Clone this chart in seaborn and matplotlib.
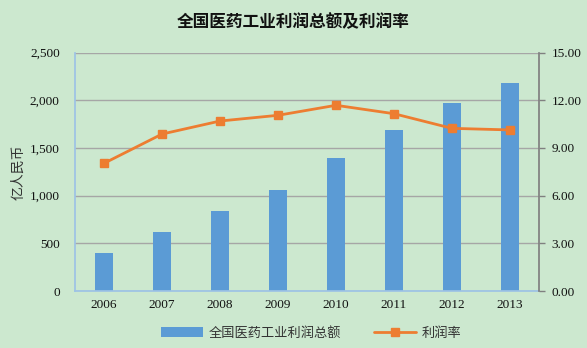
import matplotlib
matplotlib.use("Agg")
import matplotlib.pyplot as plt
import seaborn as sns
import numpy as np
import pandas as pd
from matplotlib.ticker import FuncFormatter
from matplotlib.lines import Line2D
from matplotlib.patches import Patch

years = ["2006", "2007", "2008", "2009", "2010", "2011", "2012", "2013"]
profit = [395, 618, 838, 1055, 1391, 1688, 1974, 2183]
rate = [8.03, 9.87, 10.69, 11.05, 11.68, 11.15, 10.23, 10.13]
left_ticks = [0, 500, 1000, 1500, 2000, 2500]
right_ticks = [0, 3, 6, 9, 12, 15]
title = "全国医药工业利润总额及利润率"
ylabel = "亿人民币"
bar_label = "全国医药工业利润总额"
line_label = "利润率"

sns.set_theme(style="white")
plt.rcParams['font.family'] = ['Liberation Serif', 'Noto Sans CJK SC', 'DejaVu Sans']

bg = "#CCE8CF"
bar_color = "#5B9BD5"
line_color = "#ED7D31"
cjk = ['Noto Sans CJK SC', 'DejaVu Sans']

fig = plt.figure(figsize=(5.87, 3.48), dpi=100, facecolor=bg)
ax = fig.add_axes([75/587, 1-291/348, (539-75)/587, (291-52.5)/348])
ax.set_facecolor(bg)

df = pd.DataFrame({"year": years, "profit": profit, "rate": rate})
sns.barplot(data=df, x="year", y="profit", color=bar_color, width=0.32,
            saturation=1, ax=ax, zorder=2, linewidth=0, edgecolor="none")
ax.set_ylim(0, 2500)
ax.set_yticks(left_ticks)
ax.yaxis.set_major_formatter(FuncFormatter(lambda v, p: f"{int(v):,}"))
ax.set_xlim(-0.5, len(years) - 0.5)
ax.grid(axis="y", color="#A6A6A6", linewidth=1, zorder=0)
ax.set_axisbelow(True)
ax.set_xlabel("")
ax.set_ylabel(ylabel, family=cjk, fontsize=10, color="#333333", labelpad=3)
ax.tick_params(axis="y", length=0, labelsize=9.5, colors="#111111", pad=11)
ax.tick_params(axis="x", length=0, labelsize=9.5, colors="#111111", pad=6)
ax.spines["top"].set_visible(False)
ax.spines["left"].set_color("#9DC3E6")
ax.spines["bottom"].set_color("#9DC3E6")
ax.spines["right"].set_visible(False)

ax2 = ax.twinx()
ax2.plot(np.arange(len(years)), rate, color=line_color, marker="s",
         markersize=6, linewidth=2, zorder=3)
ax2.set_ylim(0, 15)
ax2.set_yticks(right_ticks)
ax2.yaxis.set_major_formatter(FuncFormatter(lambda v, p: f"{v:.2f}"))
ax2.tick_params(axis="y", length=4, width=1, color="#808080", direction="out",
                labelsize=9.5, labelcolor="#111111", pad=5)
for s in ["top", "left", "bottom"]:
    ax2.spines[s].set_visible(False)
ax2.spines["right"].set_color("#808080")
ax2.grid(False)

fig.text(0.5, 1 - 22/348, title, family=cjk, fontsize=12, fontweight="bold",
         ha="center", va="center", color="#111111")

handles = [Patch(facecolor=bar_color, edgecolor="none", label=bar_label),
           Line2D([0], [0], color=line_color, marker="s", markersize=6,
                  linewidth=2, label=line_label)]
fig.legend(handles=handles, loc="center", bbox_to_anchor=(0.53, 1 - 333/348),
           ncol=2, frameon=False, prop={"family": cjk, "size": 9.5},
           handlelength=3.2, columnspacing=2.5, handletextpad=0.4,
           labelcolor="#333333")

fig.savefig("out.png", dpi=100, facecolor=bg)
